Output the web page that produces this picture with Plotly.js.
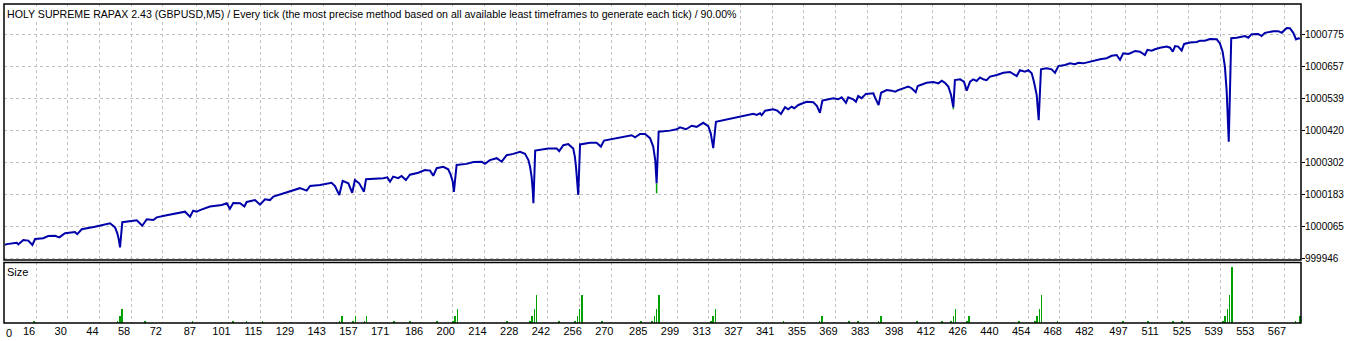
<!DOCTYPE html>
<html><head><meta charset="utf-8">
<script src="https://cdn.plot.ly/plotly-3.0.1.min.js"></script>
<style>html,body{margin:0;padding:0;background:#fff;overflow:hidden}#chart{width:1346px;height:341px}</style>
</head><body><div id="chart"></div>
<script>
const chartTitle = "HOLY SUPREME RAPAX 2.43 (GBPUSD,M5) / Every tick (the most precise method based on all available least timeframes to generate each tick) / 90.00%";
const panelLabel = "Size";

// balance curve: trade number, balance
const tradeIdx = [2.3,3.1,7.5,8.2,10.4,12.6,14.4,15.6,19.2,21.4,24.4,26.3,28.8,33.2,34.2,36.2,42.0,48.7,50.9,51.9,52.6,53.1,54.1,58.2,60.5,62.9,64.9,67.8,69.3,73.7,79.6,81.8,84.0,85.4,86.9,88.4,92.8,98.0,100.2,101.6,103.1,106.1,108.0,109.0,112.7,114.9,117.1,119.3,120.8,125.2,129.6,132.5,135.5,137.0,141.4,146.5,148.0,149.9,151.4,153.9,155.6,156.8,158.7,160.8,161.7,164.9,169.3,171.1,172.3,173.7,175.9,177.4,179.3,181.1,184.8,187.7,190.0,191.4,192.9,195.8,198.0,199.1,200.0,200.5,201.7,206.1,209.1,212.8,214.2,216.4,219.4,221.6,223.8,226.7,229.7,231.9,233.4,234.1,234.8,235.3,235.6,236.4,240.0,242.2,245.9,247.0,248.8,251.0,253.2,253.9,254.4,255.0,255.4,256.2,260.6,263.5,265.4,266.8,271.6,276.8,279.0,280.5,282.7,284.9,287.1,288.5,289.4,290.0,290.9,295.9,298.9,300.3,303.0,305.5,307.7,310.6,312.8,313.9,315.0,316.2,319.5,323.9,326.8,329.8,332.7,334.2,335.7,336.4,337.9,341.5,343.3,344.9,346.7,348.1,349.6,350.8,352.6,356.2,359.2,360.8,362.1,363.2,366.5,368.0,370.2,371.7,373.6,374.6,376.8,378.0,379.0,380.5,382.4,385.7,386.4,388.0,389.1,391.6,393.8,395.3,396.7,398.9,401.1,402.6,404.4,405.3,409.2,412.2,414.4,415.9,417.3,418.8,420.0,421.0,421.7,424.0,425.7,426.9,428.4,429.8,431.3,432.8,434.2,435.7,437.2,440.2,443.1,446.0,449.0,450.4,452.6,454.1,455.6,456.6,457.8,458.7,459.7,462.2,464.4,465.9,467.4,470.3,472.5,474.7,476.2,478.4,480.6,482.8,485.8,488.7,490.9,493.1,494.6,496.0,498.3,499.8,501.2,503.4,505.6,506.7,508.6,510.0,512.3,515.2,516.7,517.9,518.9,520.3,521.8,522.9,525.5,528.5,529.9,532.1,534.3,537.3,538.7,539.9,540.9,541.7,542.1,542.6,543.7,546.1,549.8,551.2,552.7,555.6,557.1,558.6,562.3,564.5,566.0,568.2,569.6,571.1,572.3,573.3,574.0];
const balance = [999998,1000001,1000006,1000000,1000016,1000014,999998,1000020,1000023,1000031,1000032,1000026,1000041,1000046,1000038,1000056,1000065,1000078,1000063,1000041,1000016,999989,1000082,1000087,1000089,1000069,1000093,1000090,1000100,1000108,1000119,1000121,1000102,1000125,1000121,1000127,1000140,1000146,1000152,1000132,1000153,1000152,1000140,1000157,1000164,1000147,1000167,1000164,1000177,1000189,1000199,1000208,1000199,1000216,1000220,1000228,1000216,1000183,1000235,1000226,1000191,1000238,1000226,1000195,1000241,1000242,1000245,1000248,1000232,1000251,1000245,1000253,1000238,1000258,1000265,1000275,1000273,1000254,1000282,1000287,1000278,1000257,1000232,1000194,1000294,1000298,1000305,1000306,1000298,1000312,1000319,1000306,1000330,1000335,1000343,1000335,1000312,1000288,1000251,1000201,1000152,1000347,1000352,1000355,1000355,1000345,1000367,1000371,1000355,1000325,1000288,1000238,1000183,1000370,1000376,1000376,1000362,1000384,1000391,1000399,1000404,1000396,1000409,1000409,1000393,1000362,1000312,1000226,1000417,1000421,1000426,1000433,1000426,1000439,1000435,1000450,1000438,1000411,1000356,1000454,1000460,1000467,1000475,1000479,1000483,1000479,1000485,1000478,1000495,1000500,1000495,1000483,1000508,1000500,1000510,1000504,1000516,1000528,1000526,1000512,1000487,1000532,1000537,1000541,1000537,1000544,1000524,1000544,1000537,1000528,1000549,1000541,1000557,1000559,1000544,1000516,1000561,1000571,1000569,1000565,1000571,1000578,1000584,1000578,1000563,1000586,1000598,1000601,1000596,1000606,1000598,1000584,1000553,1000507,1000608,1000611,1000602,1000569,1000602,1000611,1000605,1000618,1000611,1000608,1000621,1000627,1000635,1000638,1000623,1000645,1000639,1000645,1000633,1000602,1000553,1000460,1000648,1000652,1000648,1000635,1000660,1000664,1000670,1000667,1000672,1000670,1000675,1000680,1000685,1000689,1000698,1000701,1000683,1000707,1000705,1000710,1000716,1000713,1000701,1000720,1000717,1000722,1000728,1000732,1000728,1000713,1000734,1000732,1000717,1000742,1000747,1000749,1000754,1000754,1000760,1000759,1000744,1000713,1000658,1000565,1000479,1000380,1000763,1000765,1000771,1000765,1000778,1000779,1000771,1000783,1000789,1000789,1000783,1000801,1000800,1000783,1000759,1000763,1000761];

// equity where it shows below the balance line
const equityIdx = [290.0, 290.0, null, 421.0, 421.0];
const equity = [1000226, 1000189, null, 1000507, 1000500];

// position sizes per trade (lots)
const sizeIdx = [15,52,53,54,64,85,103,109,116,150,151,156,157,161,162,174,181,193,200,201,202,224,234,235,236,237,247,254,255,256,257,266,283,288,289,290,291,314,315,316,346,362,363,375,379,388,389,405,416,420,421,422,427,428,450,457,458,459,460,467,496,507,518,522,540,541,542,543,544,572,574];
const sizeLots = [0.01,0.01,0.03,0.06,0.01,0.01,0.01,0.01,0.01,0.01,0.03,0.01,0.03,0.01,0.03,0.01,0.01,0.01,0.01,0.03,0.06,0.01,0.01,0.03,0.06,0.12,0.01,0.01,0.03,0.06,0.12,0.01,0.01,0.01,0.03,0.06,0.12,0.01,0.03,0.06,0.01,0.01,0.03,0.01,0.01,0.01,0.03,0.01,0.01,0.01,0.03,0.06,0.01,0.03,0.01,0.01,0.03,0.06,0.12,0.01,0.01,0.01,0.01,0.01,0.01,0.03,0.06,0.12,0.24,0.01,0.03];

const xTickVals = [16,30,44,58,72,87,101,115,129,143,157,171,186,200,214,228,242,256,270,285,299,313,327,341,355,369,383,398,412,426,440,454,468,482,497,511,525,539,553,567];
const xFirstLabel = "0";
const yTickVals = [999946,1000065,1000183,1000302,1000420,1000539,1000657,1000775];

const FONT = '"Liberation Sans", Arial, sans-serif';
const GRID = '#c0c0c0';
const TOPDOM = [0.1975, 1];
const BOTDOM = [0, 0.1897];

const traces = [
  {type:'bar', x:sizeIdx, y:sizeLots, xaxis:'x', yaxis:'y2', width:0.7,
   marker:{color:'#00A000', line:{width:0}}, hoverinfo:'skip'},
  {type:'scatter', mode:'lines', x:equityIdx, y:equity, xaxis:'x', yaxis:'y',
   line:{color:'#00A000', width:1.5}, connectgaps:false, hoverinfo:'skip'},
  {type:'scatter', mode:'lines', x:tradeIdx, y:balance, xaxis:'x', yaxis:'y',
   line:{color:'#0000AA', width:2}, hoverinfo:'skip'}
];

const layout = {
  width:1346, height:341,
  margin:{l:4, r:45, t:4, b:18, pad:0},
  paper_bgcolor:'#ffffff', plot_bgcolor:'#ffffff',
  showlegend:false, bargap:0,
  font:{family:FONT, size:11, color:'#000'},
  xaxis:{range:[1.87,574.5], anchor:'y2', tickmode:'array', tickvals:xTickVals,
    ticktext:xTickVals.map(String), showgrid:true, gridcolor:GRID, gridwidth:1,
    griddash:'3px,3px', zeroline:false, showline:false, ticks:'',
    ticklabelshift:-7, tickfont:{family:FONT, size:11, color:'#000'}, fixedrange:true},
  yaxis:{domain:TOPDOM, range:[999942.2,1000889.7], side:'right', anchor:'x',
    tickmode:'array', tickvals:yTickVals, ticktext:yTickVals.map(String),
    showgrid:true, gridcolor:GRID, gridwidth:1, griddash:'3px,3px', zeroline:false,
    showline:false, ticks:'outside', ticklen:3, tickcolor:'#000', tickwidth:1,
    ticklabelstandoff:-2,
    tickfont:{family:FONT, size:10, color:'#000'}, fixedrange:true},
  yaxis2:{domain:BOTDOM, range:[0,0.26], anchor:'x', showgrid:false, showticklabels:false,
    zeroline:false, ticks:'', showline:false, fixedrange:true},
  shapes:[
    {type:'rect', xref:'paper', yref:'paper', x0:0, x1:1, y0:TOPDOM[0], y1:TOPDOM[1],
     line:{color:'#000', width:1.5}, layer:'above'},
    {type:'rect', xref:'paper', yref:'paper', x0:0, x1:1, y0:BOTDOM[0], y1:BOTDOM[1],
     line:{color:'#000', width:1.5}, layer:'above'}
  ],
  annotations:[
    {text:chartTitle, xref:'paper', yref:'paper', x:0, y:1, xanchor:'left', yanchor:'top',
     xshift:1, yshift:-2, showarrow:false, font:{family:FONT, size:10.6, color:'#000'}, bgcolor:'#ffffff'},
    {text:panelLabel, xref:'paper', yref:'paper', x:0, y:BOTDOM[1], xanchor:'left', yanchor:'top',
     xshift:1, yshift:-2, showarrow:false, font:{family:FONT, size:11, color:'#000'}},
    {text:xFirstLabel, xref:'paper', yref:'paper', x:0, y:0, xanchor:'left', yanchor:'top',
     xshift:0, yshift:-2, showarrow:false, font:{family:FONT, size:11, color:'#000'}}
  ]
};

Plotly.newPlot('chart', traces, layout, {staticPlot:true, displayModeBar:false});
</script>
</body></html>
